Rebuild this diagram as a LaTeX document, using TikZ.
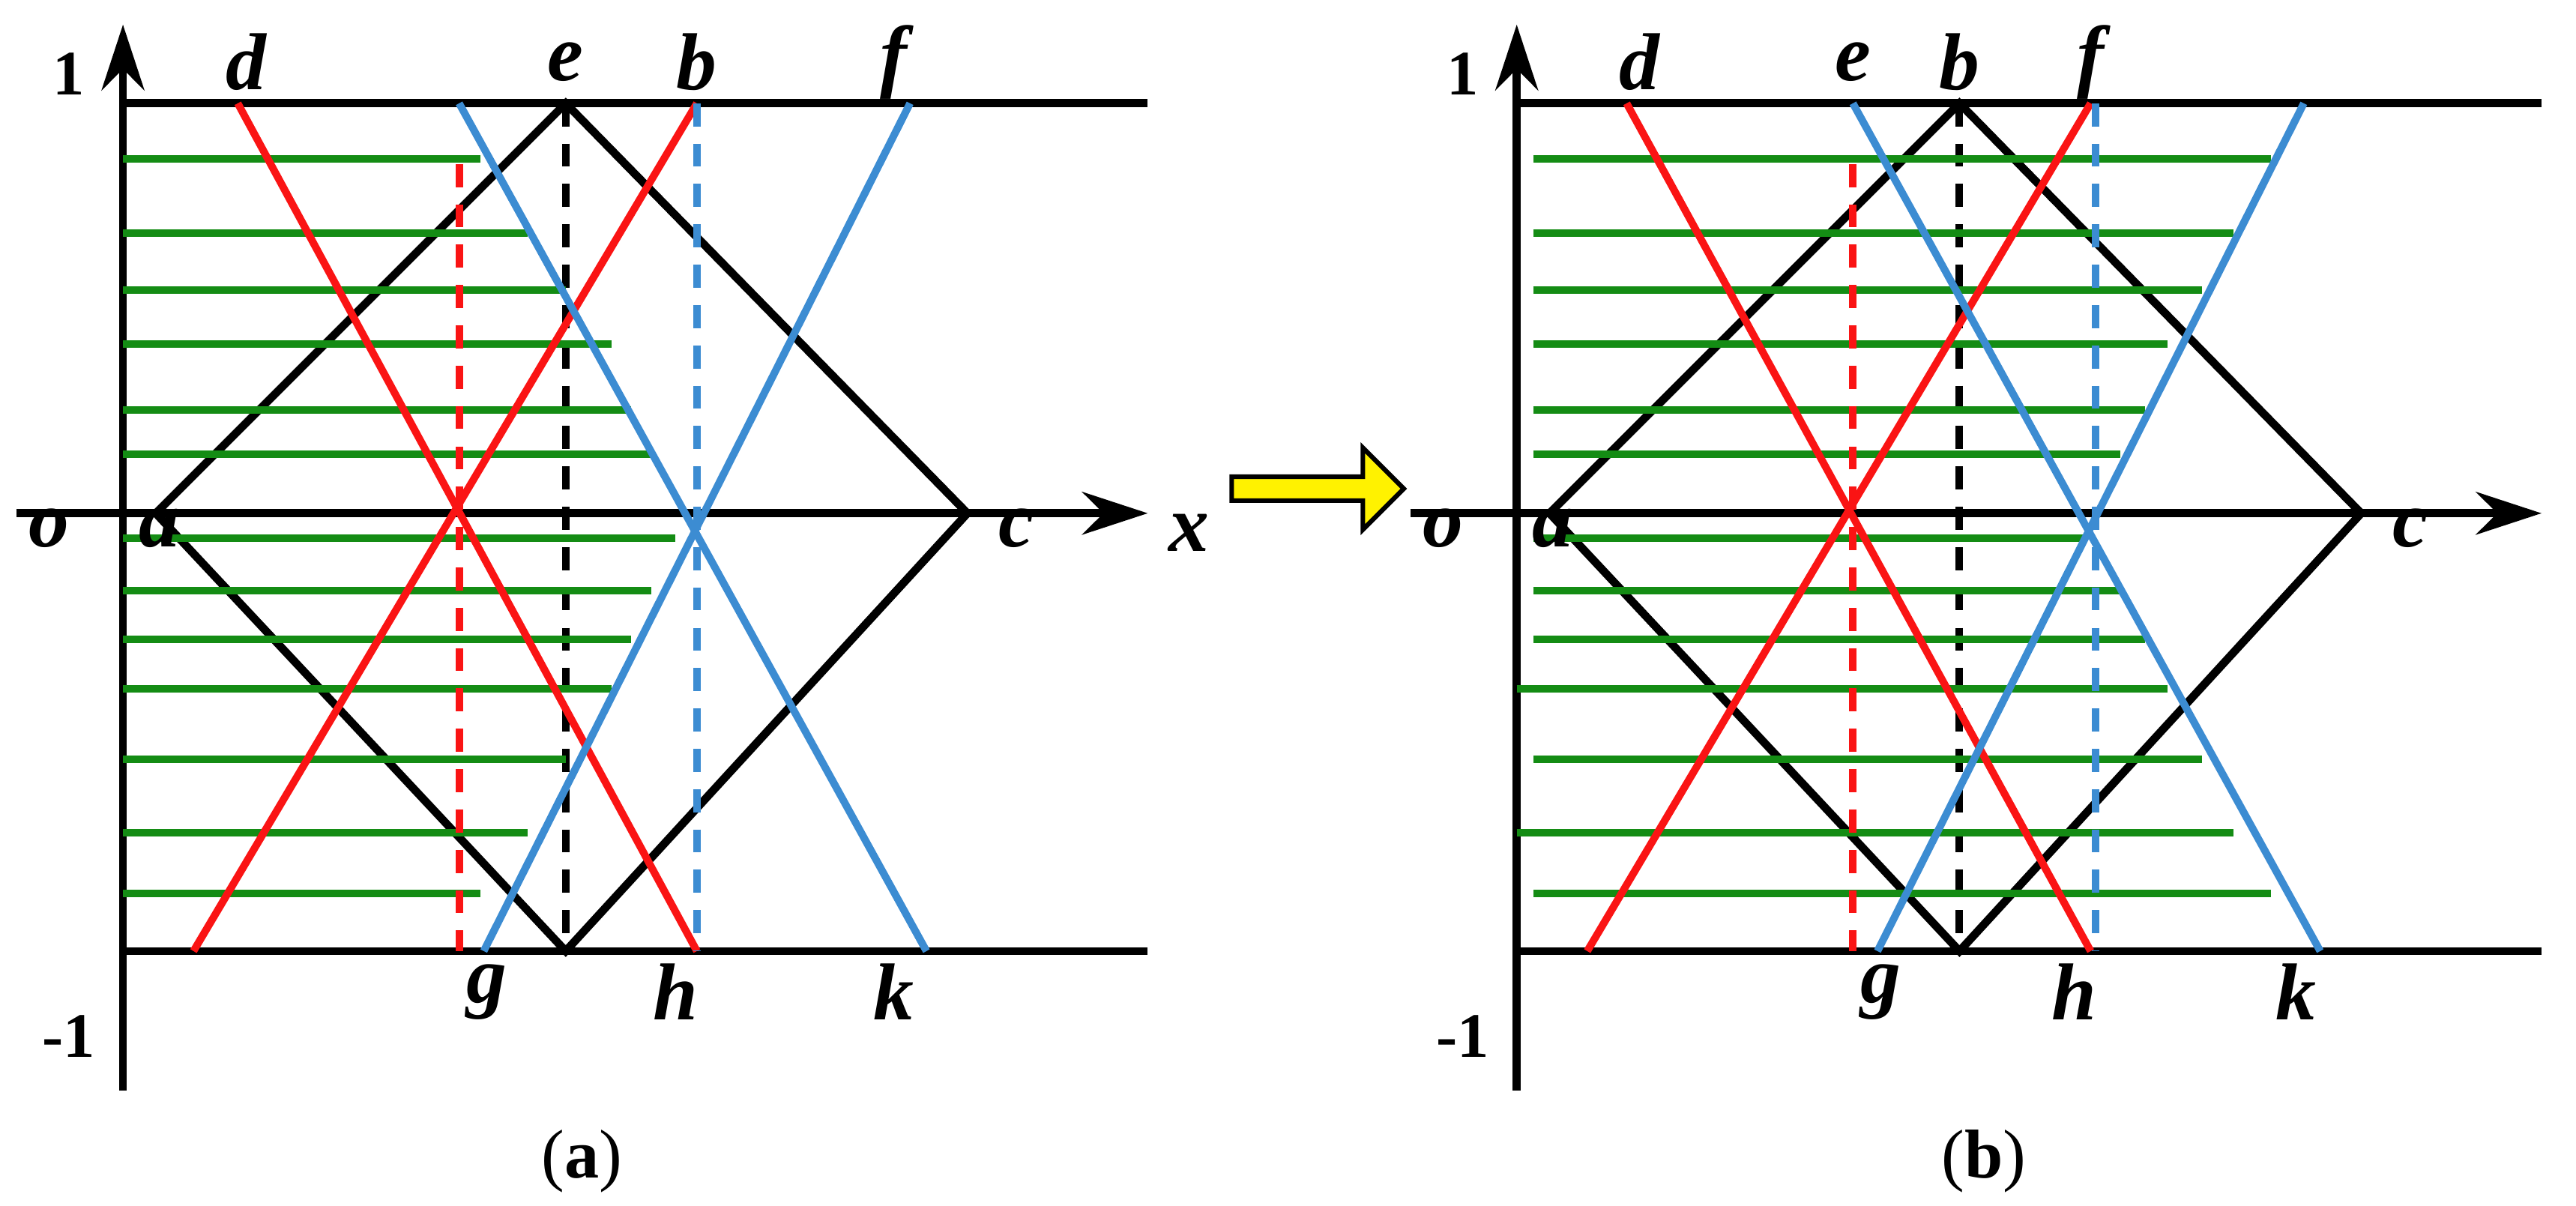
\documentclass[tikz,border=0pt]{standalone}
\usepackage{fontspec}
\setmainfont{Liberation Serif}
\usetikzlibrary{arrows.meta,shapes.arrows}
\definecolor{gr}{RGB}{20,140,20}
\definecolor{rd}{RGB}{250,20,20}
\definecolor{bl}{RGB}{60,140,210}
\begin{document}
\begin{tikzpicture}[x=0.1mm,y=-0.1mm,
 ax/.style={line width=1.4pt,black},
 axarr/.style={ax,-{Stealth[length=4mm,width=2.6mm]}},
 blk/.style={line width=1.4pt,black},
 red/.style={line width=1.3pt,rd},
 blu/.style={line width=1.3pt,bl},
 grn/.style={line width=1.3pt,gr},
 dsh/.style={line width=1.3pt,dashed,dash pattern=on 4pt off 3pt},
 lab/.style={font=\fontsize{14}{14}\selectfont\bfseries\itshape},
 num/.style={font=\fontsize{11}{11}\selectfont\bfseries},
 captxt/.style={font=\fontsize{12}{12}\selectfont}]
\useasboundingbox (0,0) rectangle (1571,735);
% ---------- panel a ----------
\coordinate (aO) at (75,665);
\coordinate (aT) at (75,15);
\draw[axarr] (aO) -- (aT);
\coordinate (aXl) at (10,313); \coordinate (aXr) at (700,313);
\draw[axarr] (aXl) -- (aXr);
\coordinate (aT1) at (75,63); \coordinate (aT2) at (700,63);
\coordinate (aB1) at (75,580); \coordinate (aB2) at (700,580);
\draw[ax] (aT1) -- (aT2); \draw[ax] (aB1) -- (aB2);
\coordinate (aa) at (95,313); \coordinate (ae) at (345,63);
\coordinate (ac) at (590,313); \coordinate (aeb) at (345,580);
\draw[blk] (aa) -- (ae) -- (ac) -- (aeb) -- cycle;
\draw[blk,dsh] (ae) -- (aeb);
\foreach \y/\xe in {97/293,142/322,177/345,210/373,250/385,277/397,328/412,360/397,390/385,420/373,463/345,508/322,545/293}
  \draw[grn] (75,\y) -- (\xe,\y);
\coordinate (ad) at (145,63); \coordinate (ah) at (425,580);
\coordinate (ar1) at (118,580); \coordinate (ab) at (425,63);
\draw[red] (ad) -- (ah); \draw[red] (ar1) -- (ab);
\coordinate (ard1) at (280,100); \coordinate (ard2) at (280,580);
\draw[rd,dsh] (ard1) -- (ard2);
\coordinate (ab1) at (280,63); \coordinate (ak) at (565,580);
\coordinate (af) at (555,63); \coordinate (ag) at (295,580);
\draw[blu] (ab1) -- (ak); \draw[blu] (af) -- (ag);
\draw[bl,dsh] (ab) -- (ah);
\node[num] (a1) at (42,45) {1};
\node[num] (am1) at (42,632) {-1};
\node[lab] (ao) at (30,322) {o};
\node[lab] (ala) at (97,322) {a};
\node[lab] (alc) at (620,322) {c};
\node[lab] (alx) at (725,325) {x};
\node[lab] (ald) at (150,38) {d};
\node[lab] (ale) at (345,38) {e};
\node[lab] (alb) at (425,38) {b};
\node[lab] (alf) at (545,38) {f};
\node[lab] (alg) at (297,605) {g};
\node[lab] (alh) at (412,605) {h};
\node[lab] (alk) at (545,605) {k};
\node[captxt] (capa) at (355,708) {(\textbf{a})};
% ---------- arrow ----------
\node[single arrow,draw=black,fill=yellow,line width=0.8pt,minimum height=10.5mm,minimum width=5mm,single arrow head extend=1.2mm,inner sep=1pt] (yarr) at (800,298) {};
% ---------- panel b ----------
\coordinate (bO) at (925,665);
\coordinate (bT) at (925,15);
\draw[axarr] (bO) -- (bT);
\coordinate (bXl) at (860,313); \coordinate (bXr) at (1550,313);
\draw[axarr] (bXl) -- (bXr);
\coordinate (bT1) at (925,63); \coordinate (bT2) at (1550,63);
\coordinate (bB1) at (925,580); \coordinate (bB2) at (1550,580);
\draw[ax] (bT1) -- (bT2); \draw[ax] (bB1) -- (bB2);
\coordinate (ba) at (945,313); \coordinate (bb) at (1195,63);
\coordinate (bc) at (1440,313); \coordinate (bbb) at (1195,580);
\draw[blk] (ba) -- (bb) -- (bc) -- (bbb) -- cycle;
\draw[blk,dsh] (bb) -- (bbb);
\foreach \xs/\y/\xe in {935/97/1385,935/142/1362,935/177/1343,935/210/1322,935/250/1308,935/277/1293,935/328/1273,935/360/1293,935/390/1308,925/420/1322,935/463/1343,925/508/1362,935/545/1385}
  \draw[grn] (\xs,\y) -- (\xe,\y);
\coordinate (bd) at (992,63); \coordinate (bh) at (1275,580);
\coordinate (br1) at (968,580); \coordinate (bf) at (1275,63);
\draw[red] (bd) -- (bh); \draw[red] (br1) -- (bf);
\coordinate (brd1) at (1130,100); \coordinate (brd2) at (1130,580);
\draw[rd,dsh] (brd1) -- (brd2);
\coordinate (bbl1) at (1130,63); \coordinate (bk) at (1415,580);
\coordinate (bbl2) at (1405,63); \coordinate (bg) at (1145,580);
\draw[blu] (bbl1) -- (bk); \draw[blu] (bbl2) -- (bg);
\coordinate (bbd1) at (1278,63); \coordinate (bbd2) at (1278,580);
\draw[bl,dsh] (bbd1) -- (bbd2);
\node[num] (b1) at (892,45) {1};
\node[num] (bm1) at (892,632) {-1};
\node[lab] (bo) at (880,322) {o};
\node[lab] (bla) at (947,322) {a};
\node[lab] (blc) at (1470,322) {c};
\node[lab] (bld) at (1000,38) {d};
\node[lab] (ble) at (1130,38) {e};
\node[lab] (blb) at (1195,38) {b};
\node[lab] (blf) at (1275,38) {f};
\node[lab] (blg) at (1147,605) {g};
\node[lab] (blh) at (1265,605) {h};
\node[lab] (blk) at (1400,605) {k};
\node[captxt] (capb) at (1210,708) {(\textbf{b})};
\end{tikzpicture}
\end{document}
